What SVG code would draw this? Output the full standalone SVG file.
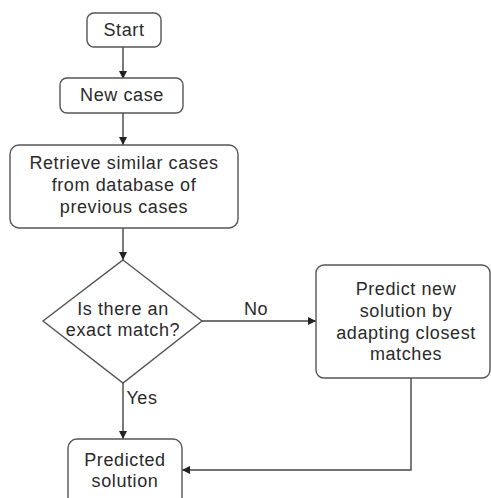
<svg xmlns="http://www.w3.org/2000/svg" width="491" height="498" viewBox="0 0 491 498">
<style>
.n{fill:#fff;stroke:#555;stroke-width:1.4}
.t{font-family:"Liberation Sans",Arial,sans-serif;font-size:18px;fill:#2a2a2a;text-anchor:middle;dominant-baseline:central;letter-spacing:0.6px}
.c{fill:none;stroke:#444;stroke-width:1.4}
</style>
<defs>
<marker id="a" viewBox="0 0 10 10" refX="10" refY="5" markerWidth="8" markerHeight="8" markerUnits="userSpaceOnUse" orient="auto">
<path d="M0,0L10,5L0,10z" fill="#222"/>
</marker>
</defs>
<rect width="491" height="498" fill="#fff"/>
<g id="connectors">
<path class="c" d="M123,47V79" marker-end="url(#a)"/>
<path class="c" d="M123,113V145" marker-end="url(#a)"/>
<path class="c" d="M123,228V260" marker-end="url(#a)"/>
<path class="c" d="M202,321H316" marker-end="url(#a)"/>
<path class="c" d="M123,383V439" marker-end="url(#a)"/>
<path class="c" d="M411,378V470H182" marker-end="url(#a)"/>
<text class="t" x="256" y="309">No</text>
<text class="t" x="142" y="398">Yes</text>
</g>
<g id="start">
<rect class="n" x="87" y="13" width="74" height="34" rx="7"/>
<text class="t" x="124" y="30">Start</text>
</g>
<g id="newcase">
<rect class="n" x="60" y="78" width="123" height="35" rx="7"/>
<text class="t" x="122" y="95">New case</text>
</g>
<g id="retrieve">
<rect class="n" x="10" y="145" width="228" height="83" rx="9"/>
<text class="t" x="124" y="163">Retrieve similar cases</text>
<text class="t" x="124" y="185">from database of</text>
<text class="t" x="124" y="207">previous cases</text>
</g>
<g id="decision">
<path class="n" d="M123,260L202,321L123,383L43,321Z"/>
<text class="t" x="123" y="309">Is there an</text>
<text class="t" x="123" y="330">exact match?</text>
</g>
<g id="adapt">
<rect class="n" x="316" y="265" width="174" height="113" rx="8"/>
<text class="t" x="406" y="289">Predict new</text>
<text class="t" x="406" y="311">solution by</text>
<text class="t" x="406" y="333">adapting closest</text>
<text class="t" x="406" y="354">matches</text>
</g>
<g id="predicted">
<rect class="n" x="68" y="439" width="114" height="70" rx="9"/>
<text class="t" x="125" y="460">Predicted</text>
<text class="t" x="125" y="481">solution</text>
</g>
</svg>
